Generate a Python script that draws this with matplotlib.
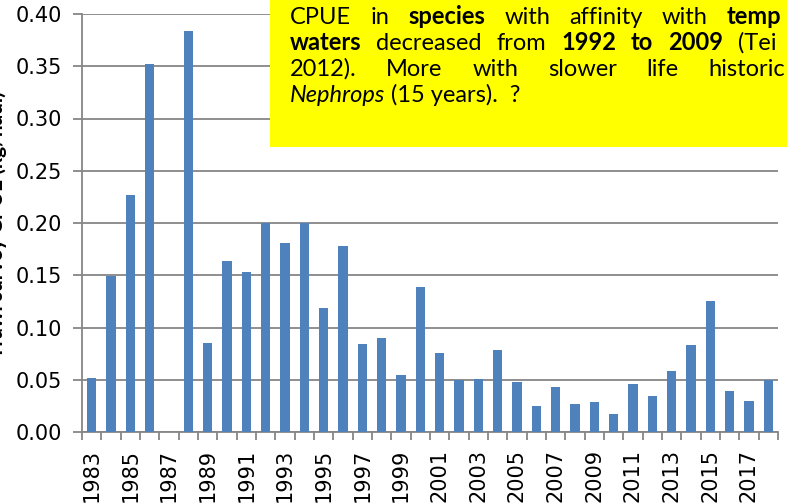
import matplotlib
matplotlib.use("Agg")
import matplotlib.pyplot as plt
from matplotlib.patches import Rectangle
import numpy as np

# Trawl survey CPUE by year
years = list(range(1983, 2019))
cpue = [0.052, 0.149, 0.227, 0.352, 0.000, 0.384, 0.085, 0.164, 0.153, 0.200,
        0.181, 0.200, 0.119, 0.178, 0.084, 0.090, 0.055, 0.139, 0.076, 0.050,
        0.051, 0.078, 0.048, 0.025, 0.043, 0.027, 0.029, 0.017, 0.046, 0.034,
        0.058, 0.083, 0.125, 0.039, 0.030, 0.050]
yticks = [0.00, 0.05, 0.10, 0.15, 0.20, 0.25, 0.30, 0.35, 0.40]

W, H = 787, 503
fig = plt.figure(figsize=(W / 100, H / 100), dpi=100)
ax = fig.add_axes([82 / W, (H - 432) / H, 696 / W, 418 / H])

grey = "#868686"
x = np.arange(len(years))
ax.bar(x, cpue, width=0.47, color="#4F81BD", zorder=3)

ax.set_xlim(-0.5, len(years) - 0.5)
ax.set_ylim(0, 0.40)
ax.set_yticks(yticks)
ax.set_yticklabels([f"{v:.2f}" for v in yticks], fontsize=15)
ax.yaxis.grid(True, color=grey, linewidth=1.3, zorder=0)
ax.set_axisbelow(True)

ax.set_xticks(x[::2])
ax.set_xticklabels([str(y) for y in years[::2]], rotation=90, fontsize=15)
ax.set_xticks(np.arange(-0.5, len(years)), minor=True)
ax.tick_params(axis="x", which="major", length=0, pad=12)
ax.tick_params(axis="x", which="minor", length=6, width=1.3, color=grey, direction="out")
ax.tick_params(axis="y", length=6.5, width=1.3, color=grey, direction="out", pad=8)

for side in ("top", "right"):
    ax.spines[side].set_visible(False)
for side in ("left", "bottom"):
    ax.spines[side].set_color(grey)
    ax.spines[side].set_linewidth(1.3)

fig.text(7.5 / W, (H - 225) / H, "Trawl survey CPUE (kg/haul)", rotation=90,
         ha="right", va="center", fontsize=15, fontweight="bold",
         family="Lato")

# Yellow note box
fig.patches.append(Rectangle((270 / W, (H - 147) / H), (W - 270) / W, 147 / H,
                             transform=fig.transFigure, facecolor="#FFFF00",
                             edgecolor="none", zorder=5))

NOTE_SIZE = 17
LEFT = 290
renderer = fig.canvas.get_renderer()


def word_text(px, base, word, weight="normal", style="normal"):
    return fig.text(px / W, (H - base) / H, word, ha="left", va="baseline",
                    fontsize=NOTE_SIZE, fontweight=weight, fontstyle=style,
                    family="Lato", color="black", zorder=6)


def word_width(word, weight="normal", style="normal"):
    t = word_text(0, 0, word, weight, style)
    w = t.get_window_extent(renderer).width
    t.remove()
    return w


# Justified lines: words spread so the last visible word starts at `last_x`
justified = [
    (24, 727, [("CPUE", "normal"), ("in", "normal"), ("species", "bold"),
               ("with", "normal"), ("affinity", "normal"), ("with", "normal"),
               ("temp", "bold")]),
    (50, 738, [("waters", "bold"), ("decreased", "normal"), ("from", "normal"),
               ("1992", "bold"), ("to", "bold"), ("2009", "bold"),
               ("(Tei", "normal")]),
    (76, 708, [("2012).", "normal"), ("More", "normal"), ("with", "normal"),
               ("slower", "normal"), ("life", "normal"), ("historic", "normal")]),
]
for base, last_x, words in justified:
    widths = [word_width(w, wt) for w, wt in words[:-1]]
    gap = (last_x - LEFT - sum(widths)) / (len(words) - 1)
    px = LEFT
    for (w, wt), ww in zip(words[:-1], widths):
        word_text(px, base, w, wt)
        px += ww + gap
    word_text(last_x, base, words[-1][0], words[-1][1])

# Final line, left aligned
nx = LEFT + word_width("Nephrops", style="italic") + word_width("a a") - 2 * word_width("a")
word_text(LEFT, 102, "Nephrops", style="italic")
word_text(nx, 102, "(15 years).  ?")

fig.savefig("out.png", dpi=100)
